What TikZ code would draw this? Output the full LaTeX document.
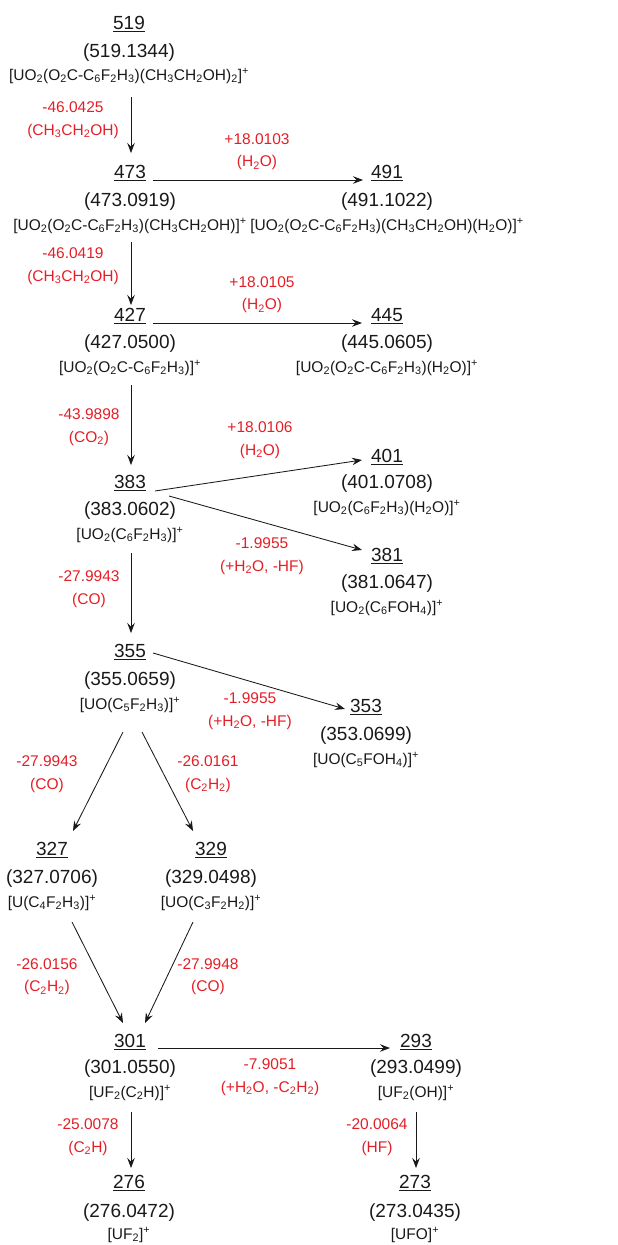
\documentclass[tikz,border=0pt]{standalone}
\usepackage{fontspec}
\setmainfont{Liberation Sans}
\usetikzlibrary{arrows.meta}
\definecolor{lossred}{RGB}{228,30,38}
\definecolor{inkblack}{RGB}{25,25,25}
\newsavebox\numbox
\newcommand\ulnum[1]{\sbox\numbox{#1}\rlap{\rule[-3.2pt]{\wd\numbox}{1.4pt}}\usebox\numbox}
\newcommand\sbs[1]{\textsubscript{#1}}
\newcommand\spp{\textsuperscript{+}}
\newcommand\mkspecies[8]{%
  \node[numtxt] (n#1) at ({#2},{#3}) {\ulnum{#6}};
  \node[masstxt] (m#1) at ({#2},{#4}) {(#7)};
  \node[formtxt] (f#1) at ({#2},{#5}) {#8};
}
\begin{document}
\begin{tikzpicture}[x=1pt,y=-1pt,
  numtxt/.style={inner sep=0pt,text=inkblack,font=\fontsize{19}{22}\selectfont,text height=13.6pt,text depth=3.2pt},
  masstxt/.style={inner sep=0pt,text=inkblack,font=\fontsize{19}{22}\selectfont,text height=14pt,text depth=4pt},
  formtxt/.style={inner sep=0pt,text=inkblack,font=\fontsize{15.5}{18}\selectfont,text height=11.3pt,text depth=3.3pt},
  loss/.style={inner sep=0pt,align=center,text=lossred,font=\fontsize{15.5}{22.5}\selectfont},
  arr/.style={draw=inkblack,line width=0.85pt,-{Stealth[length=10pt,width=7.5pt,inset=3.5pt]}}]
\useasboundingbox (0,0) rectangle (618,1245);

\mkspecies{519}{129}{24}{52}{76}{519}{519.1344}{[UO\sbs{2}(O\sbs{2}C-C\sbs{6}F\sbs{2}H\sbs{3})(CH\sbs{3}CH\sbs{2}OH)\sbs{2}]\spp}
\mkspecies{473}{130}{173}{201}{226}{473}{473.0919}{[UO\sbs{2}(O\sbs{2}C-C\sbs{6}F\sbs{2}H\sbs{3})(CH\sbs{3}CH\sbs{2}OH)]\spp}
\mkspecies{491}{387}{173}{201}{226}{491}{491.1022}{[UO\sbs{2}(O\sbs{2}C-C\sbs{6}F\sbs{2}H\sbs{3})(CH\sbs{3}CH\sbs{2}OH)(H\sbs{2}O)]\spp}
\mkspecies{427}{130}{316}{343}{368}{427}{427.0500}{[UO\sbs{2}(O\sbs{2}C-C\sbs{6}F\sbs{2}H\sbs{3})]\spp}
\mkspecies{445}{387}{316}{343}{368}{445}{445.0605}{[UO\sbs{2}(O\sbs{2}C-C\sbs{6}F\sbs{2}H\sbs{3})(H\sbs{2}O)]\spp}
\mkspecies{383}{130}{483}{510}{535}{383}{383.0602}{[UO\sbs{2}(C\sbs{6}F\sbs{2}H\sbs{3})]\spp}
\mkspecies{401}{387}{457}{483}{508}{401}{401.0708}{[UO\sbs{2}(C\sbs{6}F\sbs{2}H\sbs{3})(H\sbs{2}O)]\spp}
\mkspecies{381}{387}{556}{583}{608}{381}{381.0647}{[UO\sbs{2}(C\sbs{6}FOH\sbs{4})]\spp}
\mkspecies{355}{130}{652}{680}{705}{355}{355.0659}{[UO(C\sbs{5}F\sbs{2}H\sbs{3})]\spp}
\mkspecies{353}{366}{707}{735}{760}{353}{353.0699}{[UO(C\sbs{5}FOH\sbs{4})]\spp}
\mkspecies{327}{52}{850}{878}{903}{327}{327.0706}{[U(C\sbs{4}F\sbs{2}H\sbs{3})]\spp}
\mkspecies{329}{211}{850}{878}{903}{329}{329.0498}{[UO(C\sbs{3}F\sbs{2}H\sbs{2})]\spp}
\mkspecies{301}{130}{1042}{1068}{1093}{301}{301.0550}{[UF\sbs{2}(C\sbs{2}H)]\spp}
\mkspecies{293}{416}{1042}{1068}{1093}{293}{293.0499}{[UF\sbs{2}(OH)]\spp}
\mkspecies{276}{129}{1183}{1212}{1235}{276}{276.0472}{[UF\sbs{2}]\spp}
\mkspecies{273}{415}{1183}{1212}{1235}{273}{273.0435}{[UFO]\spp}

% mass-loss labels
\node[loss] (l1)  at (73,120)    {-46.0425\\(CH\sbs{3}CH\sbs{2}OH)};
\node[loss] (l2)  at (257,151.5) {+18.0103\\(H\sbs{2}O)};
\node[loss] (l3)  at (73,266)    {-46.0419\\(CH\sbs{3}CH\sbs{2}OH)};
\node[loss] (l4)  at (262,294.5) {+18.0105\\(H\sbs{2}O)};
\node[loss] (l5)  at (89,427)    {-43.9898\\(CO\sbs{2})};
\node[loss] (l6)  at (260,440)   {+18.0106\\(H\sbs{2}O)};
\node[loss] (l7)  at (262,556)   {-1.9955\\(+H\sbs{2}O, -HF)};
\node[loss] (l8)  at (89,589)    {-27.9943\\(CO)};
\node[loss] (l9)  at (250,711)   {-1.9955\\(+H\sbs{2}O, -HF)};
\node[loss] (l10) at (47,774)    {-27.9943\\(CO)};
\node[loss] (l11) at (208,774)   {-26.0161\\(C\sbs{2}H\sbs{2})};
\node[loss] (l12) at (47,976.5)  {-26.0156\\(C\sbs{2}H\sbs{2})};
\node[loss] (l13) at (208,976.5) {-27.9948\\(CO)};
\node[loss] (l14) at (270,1077)  {-7.9051\\(+H\sbs{2}O, -C\sbs{2}H\sbs{2})};
\node[loss] (l15) at (88,1137)   {-25.0078\\(C\sbs{2}H)};
\node[loss] (l16) at (377,1137)  {-20.0064\\(HF)};

% vertical arrows
\draw[arr] ([shift={(2,21)}]f519.center) -- ([shift={(1,-20)}]n473.center);
\draw[arr] ([shift={(1,16)}]f473.center) -- ([shift={(1,-11)}]n427.center);
\draw[arr] ([shift={(1,17)}]f427.center) -- ([shift={(1,-18)}]n383.center);
\draw[arr] ([shift={(1,18)}]f383.center) -- ([shift={(1,-19)}]n355.center);
\draw[arr] ([shift={(1,19)}]f301.center) -- ([shift={(2,-15)}]n276.center);
\draw[arr] ([shift={(0,19)}]f293.center) -- ([shift={(1,-15)}]n273.center);
% horizontal arrows
\draw[arr] ([shift={(23,7)}]n473.center) -- ([shift={(-24,7)}]n491.center);
\draw[arr] ([shift={(23,7)}]n427.center) -- ([shift={(-25,7)}]n445.center);
\draw[arr] ([shift={(28,6)}]n301.center) -- ([shift={(-26,6)}]n293.center);
% diagonal arrows
\draw[arr] ([shift={(25,8)}]n383.center) -- ([shift={(-25,3)}]n401.center);
\draw[arr] ([shift={(39,13)}]n383.center) -- ([shift={(-25,-6)}]n381.center);
\draw[arr] ([shift={(23,1)}]n355.center) -- ([shift={(-21,2)}]n353.center);
\draw[arr] ([shift={(-7,27)}]f355.center) -- ([shift={(21,-19)}]n327.center);
\draw[arr] ([shift={(12,27)}]f355.center) -- ([shift={(-18,-19)}]n329.center);
\draw[arr] ([shift={(20,19)}]f327.center) -- ([shift={(-7,-19)}]n301.center);
\draw[arr] ([shift={(-18,19)}]f329.center) -- ([shift={(15,-19)}]n301.center);
\end{tikzpicture}
\end{document}
